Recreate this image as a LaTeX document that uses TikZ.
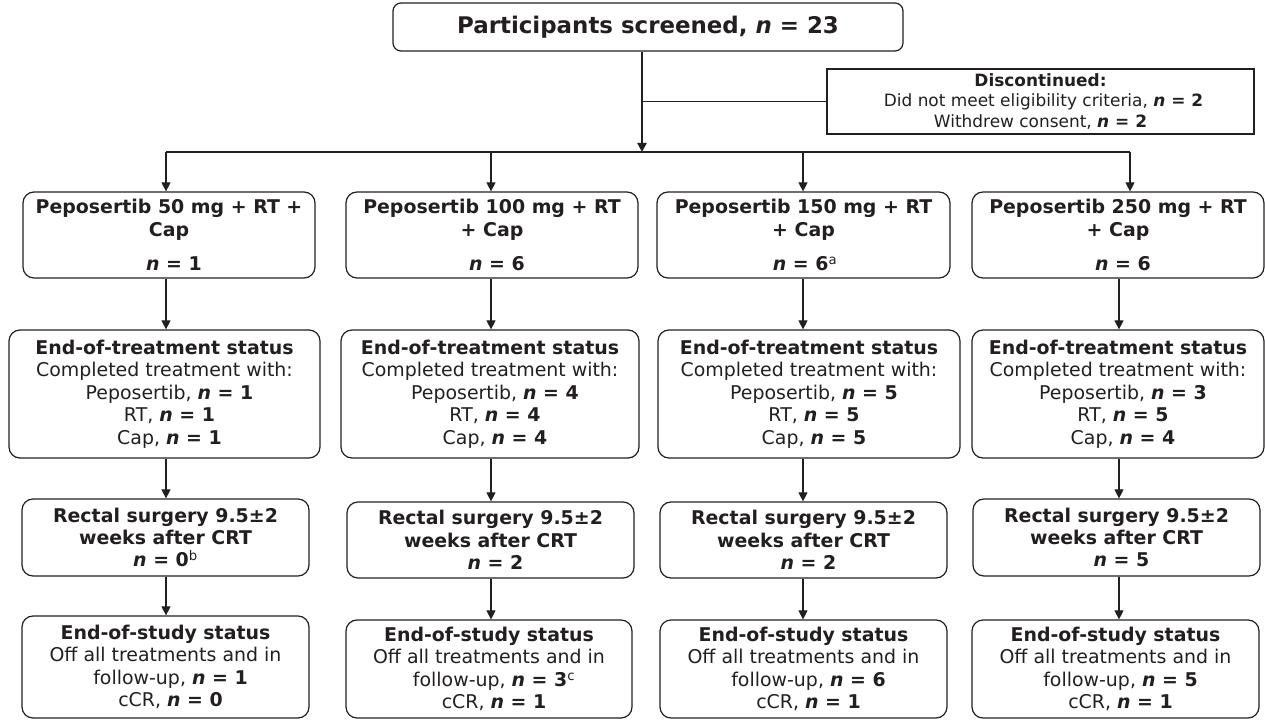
\documentclass[tikz,border=0pt]{standalone}
\usepackage{fontspec}
\setmainfont{DejaVu Sans}
\usetikzlibrary{arrows.meta}
\definecolor{ink}{HTML}{231F20}
\newcommand\nn[1]{\textbf{\textit{n} = #1}}
\newcommand\sh{\hspace*{10bp}}
\newcommand\supmark[1]{\textsuperscript{\mdseries #1}}
\begin{document}
\begin{tikzpicture}[x=1bp,y=-1bp,
  bx/.style={draw=ink, line width=1.2bp, rounded corners=11bp, align=center, inner sep=0pt, text=ink, font=\fontsize{19}{22.5}\selectfont},
  bxb/.style={bx, font=\fontsize{19}{22.5}\selectfont\bfseries},
  ln/.style={draw=ink, line width=1.1bp},
  arr/.style={ln, -{Triangle[length=9bp,width=9bp]}}]
\useasboundingbox (0,0) rectangle (1265,720);
\fill[white] (0,0) rectangle (1265,720);
% top
\node[bx, minimum width=510bp, minimum height=48bp, rounded corners=8bp, font=\fontsize{23}{26}\selectfont\bfseries] (top) at (648,27) {Participants screened, \textit{n} = 23};
\node[draw=ink, line width=1.2bp, minimum width=427bp, minimum height=65bp, inner sep=0pt, align=center, text=ink, font=\fontsize{17}{20.5}\selectfont] (disc) at (1040.5,101.5) {\textbf{Discontinued:}\\\hspace*{6bp}Did not meet eligibility criteria, \nn{2}\\Withdrew consent, \nn{2}};
% coordinates
\coordinate (k0) at (642,152);
\coordinate (k1) at (166,152);
\coordinate (k2) at (491,152);
\coordinate (k3) at (803,152);
\coordinate (k4) at (1130,152);
\coordinate (v4) at (1119,152);
% row 1
\node[bxb, minimum width=292bp, minimum height=86bp] (a1) at (169,235) {Peposertib 50 mg + RT +\\Cap\\[12bp]\sh\nn{1}};
\node[bxb, minimum width=292bp, minimum height=86bp] (a2) at (492,235) {Peposertib 100 mg + RT\\+ Cap\\[12bp]\sh\nn{6}};
\node[bxb, minimum width=293bp, minimum height=86bp] (a3) at (803.5,235) {Peposertib 150 mg + RT\\+ Cap\\[12bp]\hspace*{3bp}\nn{6}\supmark{a}};
\node[bxb, minimum width=292bp, minimum height=86bp] (a4) at (1118,235) {Peposertib 250 mg + RT\\+ Cap\\[12bp]\sh\nn{6}};
% row 2
\node[bx, minimum width=311bp, minimum height=128bp] (b1) at (164.5,394) {\textbf{End-of-treatment status}\\Completed treatment with:\\\sh Peposertib, \nn{1}\\\sh RT, \nn{1}\\\sh Cap, \nn{1}};
\node[bx, minimum width=298bp, minimum height=128bp] (b2) at (490,394) {\textbf{End-of-treatment status}\\Completed treatment with:\\\sh Peposertib, \nn{4}\\\sh RT, \nn{4}\\\sh Cap, \nn{4}};
\node[bx, minimum width=302bp, minimum height=128bp] (b3) at (809,394) {\textbf{End-of-treatment status}\\Completed treatment with:\\\sh Peposertib, \nn{5}\\\sh RT, \nn{5}\\\sh Cap, \nn{5}};
\node[bx, minimum width=292bp, minimum height=128bp] (b4) at (1118,394) {\textbf{End-of-treatment status}\\Completed treatment with:\\\sh Peposertib, \nn{3}\\\sh RT, \nn{5}\\\sh Cap, \nn{4}};
% row 3
\node[bxb, minimum width=287bp, minimum height=77bp] (c1) at (165.5,537.5) {Rectal surgery 9.5±2\\weeks after CRT\\\nn{0}\supmark{b}};
\node[bxb, minimum width=287bp, minimum height=76bp] (c2) at (490.5,540) {Rectal surgery 9.5±2\\weeks after CRT\\\sh\nn{2}};
\node[bxb, minimum width=287bp, minimum height=76bp] (c3) at (803.5,540) {Rectal surgery 9.5±2\\weeks after CRT\\\sh\nn{2}};
\node[bxb, minimum width=287bp, minimum height=77bp] (c4) at (1116.5,537.5) {Rectal surgery 9.5±2\\weeks after CRT\\\sh\nn{5}};
% row 4
\node[bx, minimum width=287bp, minimum height=102bp] (d1) at (165.5,667) {\textbf{End-of-study status}\\Off all treatments and in\\\sh follow-up, \nn{1}\\\sh cCR, \nn{0}};
\node[bx, minimum width=286bp, minimum height=98bp] (d2) at (489,669) {\textbf{End-of-study status}\\Off all treatments and in\\\sh follow-up, \nn{3}\supmark{c}\\\sh cCR, \nn{1}};
\node[bx, minimum width=287bp, minimum height=98bp] (d3) at (803.5,669) {\textbf{End-of-study status}\\Off all treatments and in\\\sh follow-up, \nn{6}\\\sh cCR, \nn{1}};
\node[bx, minimum width=287bp, minimum height=98bp] (d4) at (1115.5,669) {\textbf{End-of-study status}\\Off all treatments and in\\\sh follow-up, \nn{5}\\\sh cCR, \nn{1}};
% connectors
\draw[arr, line width=2.5bp] (top.south -| k0) -- (k0);
\draw[ln] (k0 |- disc.west) -- (disc.west);
\draw[ln] (k1) -- (k4);
\draw[arr] (k1) -- (a1.north -| k1);
\draw[arr] (k2) -- (a2.north -| k2);
\draw[arr] (k3) -- (a3.north -| k3);
\draw[arr] (k4) -- (a4.north -| k4);
\foreach \c/\k in {1/k1,2/k2,3/k3,4/v4}{
  \draw[arr] (a\c.south -| \k) -- (b\c.north -| \k);
  \draw[arr] (b\c.south -| \k) -- (c\c.north -| \k);
  \draw[arr] (c\c.south -| \k) -- (d\c.north -| \k);
}
\end{tikzpicture}
\end{document}
